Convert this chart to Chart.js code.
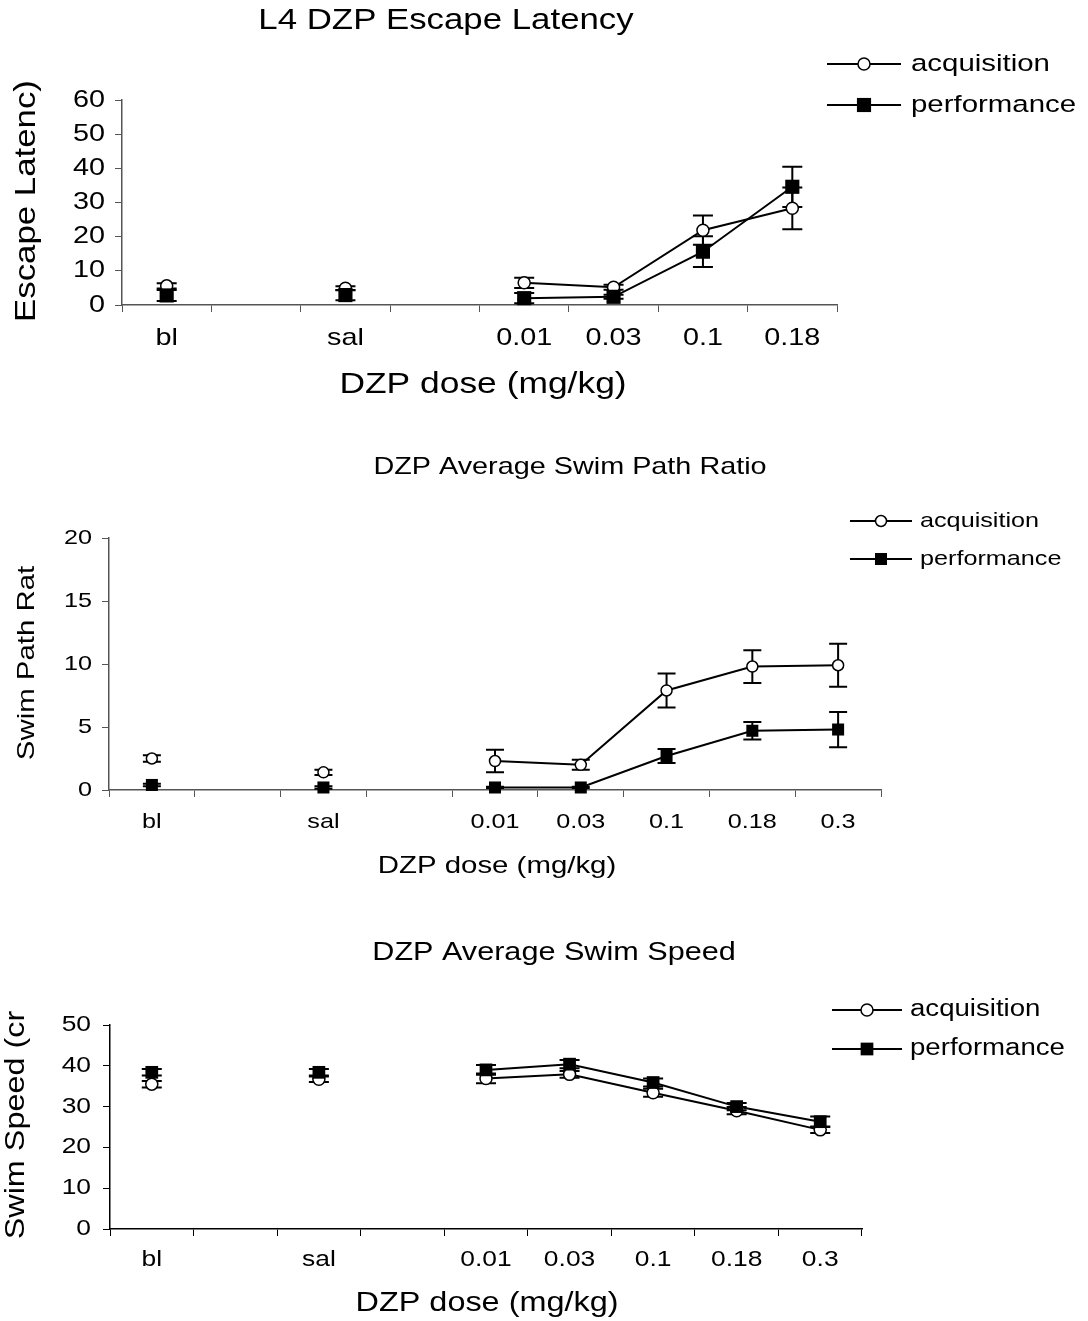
<!DOCTYPE html>
<html>
<head>
<meta charset="utf-8">
<title>DZP dose charts</title>
<script src="https://cdn.jsdelivr.net/npm/chart.js@4.4.1/dist/chart.umd.min.js"></script>
<style>
  html, body { margin: 0; padding: 0; background: #fff; }
  body { width: 1088px; height: 1321px; position: relative; overflow: hidden; }
  canvas { position: absolute; left: 0; }
</style>
</head>
<body>
<canvas id="latencyChart" width="1088" height="440" style="top:0px"></canvas>
<canvas id="pathChart" width="1088" height="460" style="top:440px"></canvas>
<canvas id="speedChart" width="1088" height="421" style="top:900px"></canvas>
<script>
// Dose groups - the '' slots are the empty columns between bl / sal / doses
const latencyDoses = ['bl', '', 'sal', '', '0.01', '0.03', '0.1', '0.18'];
const doses = ['bl', '', 'sal', '', '0.01', '0.03', '0.1', '0.18', '0.3'];

// L4 escape latency
const latencyAcq = [5.6, null, 4.9, null, 6.5, 5.2, 21.9, 28.3];
const latencyAcqErr = [0.8, null, 0.6, null, 1.5, 0.7, 4.3, 6.1];
const latencyPerf = [2.8, null, 2.9, null, 2.0, 2.4, 15.6, 34.6];
const latencyPerfErr = [1.6, null, 1.5, null, 1.5, 0.6, 4.5, 5.9];

// swim path ratio
const pathAcq = [2.5, null, 1.4, null, 2.3, 2.0, 7.9, 9.8, 9.9];
const pathAcqErr = [0.25, null, 0.2, null, 0.9, 0.4, 1.35, 1.3, 1.7];
const pathPerf = [0.4, null, 0.2, null, 0.2, 0.2, 2.7, 4.7, 4.8];
const pathPerfErr = [0.1, null, 0.1, null, 0.05, 0.05, 0.55, 0.7, 1.4];

// swim speed
const speedAcq = [35.5, null, 36.7, null, 36.9, 37.9, 33.4, 29.0, 24.3];
const speedAcqErr = [0.8, null, 0.7, null, 1.2, 0.8, 1.0, 0.9, 0.8];
const speedPerf = [38.4, null, 38.4, null, 39.0, 40.4, 35.9, 30.0, 26.3];
const speedPerfErr = [0.8, null, 0.8, null, 1.2, 1.0, 1.0, 0.9, 1.3];

const STRETCH = 1.2;        // the original lettering is ~20% wider than Arial
const XAXIS_H = 60;         // fixed height of the x axis box
const FONT = '"Liberation Sans", Arial, sans-serif';

// draw text stretched along its baseline
function wideText(ctx, text, x, y, size, align, vertical) {
	ctx.save();
	ctx.translate(x, y);
	if (vertical) ctx.rotate(-Math.PI / 2);
	ctx.scale(STRETCH, 1);
	ctx.font = size + 'px ' + FONT;
	ctx.fillStyle = '#000';
	ctx.textAlign = align || 'center';
	ctx.textBaseline = 'middle';
	ctx.fillText(text, 0, 0);
	ctx.restore();
}

function drawMarker(ctx, style, x, y, r) {
	ctx.save();
	ctx.strokeStyle = '#000';
	if (style === 'rect') {
		const s = r * Math.SQRT1_2;
		ctx.fillStyle = '#000';
		ctx.fillRect(x - s, y - s, 2 * s, 2 * s);
	} else {
		ctx.fillStyle = '#fff';
		ctx.lineWidth = 1.5;
		ctx.beginPath();
		ctx.arc(x, y, r, 0, Math.PI * 2);
		ctx.fill();
		ctx.stroke();
	}
	ctx.restore();
}

// vertical SEM bars with caps, drawn under the markers
const errorBars = {
	id: 'errorBars',
	beforeDatasetsDraw(chart) {
		const ctx = chart.ctx;
		const ys = chart.scales.y;
		const cap = chart.$spec.cap;
		ctx.save();
		ctx.strokeStyle = '#000';
		ctx.lineWidth = 2;
		chart.data.datasets.forEach((ds, i) => {
			chart.getDatasetMeta(i).data.forEach((pt, j) => {
				const v = ds.data[j], e = ds.errors[j];
				if (v == null || e == null) return;
				const top = ys.getPixelForValue(v + e);
				const bot = ys.getPixelForValue(v - e);
				ctx.beginPath();
				ctx.moveTo(pt.x, top); ctx.lineTo(pt.x, bot);
				ctx.moveTo(pt.x - cap, top); ctx.lineTo(pt.x + cap, top);
				ctx.moveTo(pt.x - cap, bot); ctx.lineTo(pt.x + cap, bot);
				ctx.stroke();
			});
		});
		ctx.restore();
	}
};

// titles, tick labels and legend in the wide lettering
const paperText = {
	id: 'paperText',
	afterDraw(chart) {
		const t = chart.$spec.text;
		const ctx = chart.ctx, xs = chart.scales.x, ys = chart.scales.y;
		wideText(ctx, t.title, t.titleAt[0], t.titleAt[1], t.titleSize);
		wideText(ctx, t.yTitle, t.yTitleAt[0], t.yTitleAt[1], t.yTitleSize, 'center', true);
		wideText(ctx, t.xTitle, t.xTitleAt[0], t.xTitleAt[1], t.xTitleSize);
		ys.ticks.forEach(tk => {
			wideText(ctx, String(tk.value), ys.right - t.yLabelGap, ys.getPixelForValue(tk.value), t.tickSize, 'right');
		});
		chart.data.labels.forEach((lab, i) => {
			if (lab) wideText(ctx, lab, xs.getPixelForValue(i), xs.top + t.xLabelDrop, t.tickSize);
		});
		// legend: line with marker in the middle, then the name
		const lg = t.legend;
		const rows = [['acquisition', 'circle', chart.$spec.circleR], ['performance', 'rect', chart.$spec.squareR]];
		rows.forEach((row, k) => {
			const y = lg.rows[k];
			ctx.save();
			ctx.strokeStyle = '#000';
			ctx.lineWidth = 2;
			ctx.beginPath();
			ctx.moveTo(lg.x1, y); ctx.lineTo(lg.x2, y);
			ctx.stroke();
			ctx.restore();
			drawMarker(ctx, row[1], (lg.x1 + lg.x2) / 2, y, row[2]);
			wideText(ctx, row[0], lg.textX, y, lg.size, 'left');
		});
	}
};

function buildChart(id, spec) {
	const canvas = document.getElementById(id);
	const a = spec.area;
	const chart = new Chart(canvas, {
		type: 'line',
		data: {
			labels: spec.labels,
			datasets: [{
				label: 'performance',
				data: spec.perf,
				errors: spec.perfErr,
				borderColor: '#000',
				borderWidth: 2,
				pointStyle: 'rect',
				pointRadius: spec.squareR,
				pointBackgroundColor: '#000',
				pointBorderColor: '#000',
				pointBorderWidth: 0,
				tension: 0,
				clip: false,
				order: 0
			}, {
				label: 'acquisition',
				data: spec.acq,
				errors: spec.acqErr,
				borderColor: '#000',
				borderWidth: 2,
				pointStyle: 'circle',
				pointRadius: spec.circleR,
				pointBackgroundColor: '#fff',
				pointBorderColor: '#000',
				pointBorderWidth: 1.5,
				tension: 0,
				clip: false,
				order: 1
			}]
		},
		options: {
			responsive: false,
			animation: false,
			events: [],
			layout: {
				padding: { left: 0, top: a.top, right: canvas.width - a.right, bottom: canvas.height - a.bottom - XAXIS_H }
			},
			plugins: { legend: { display: false }, tooltip: { enabled: false } },
			scales: {
				x: {
					type: 'category',
					offset: true,
					grid: { offset: true, drawOnChartArea: false, tickLength: 7, color: spec.axisColor },
					border: { color: spec.axisColor, width: 1.5 },
					ticks: { display: false },
					afterFit: s => { s.height = XAXIS_H; }
				},
				y: {
					min: 0,
					max: spec.yMax,
					grid: { drawOnChartArea: false, tickLength: 7, color: spec.axisColor },
					border: { color: spec.axisColor, width: 1.5 },
					ticks: { stepSize: spec.yStep, display: false },
					afterFit: s => { s.width = a.left; }
				}
			}
		},
		plugins: [{ id: 'spec', beforeInit(c) { c.$spec = spec; } }, errorBars, paperText]
	});
	return chart;
}

// page y offsets of the canvases: 0, 440, 900
buildChart('latencyChart', {
	labels: latencyDoses,
	acq: latencyAcq, acqErr: latencyAcqErr,
	perf: latencyPerf, perfErr: latencyPerfErr,
	yMax: 60, yStep: 10,
	area: { left: 122, right: 837, top: 100, bottom: 305 },
	axisColor: '#555',
	squareR: 10, circleR: 6, cap: 10,
	text: {
		title: 'L4 DZP Escape Latency', titleAt: [446, 21], titleSize: 29,
		yTitle: 'Escape Latenc)', yTitleAt: [27, 201], yTitleSize: 29,
		xTitle: 'DZP dose (mg/kg)', xTitleAt: [483, 385], xTitleSize: 29.5,
		tickSize: 24, yLabelGap: 17, xLabelDrop: 33,
		legend: { x1: 827, x2: 901, rows: [64, 105], textX: 911, size: 24.5 }
	}
});

buildChart('pathChart', {
	labels: doses,
	acq: pathAcq, acqErr: pathAcqErr,
	perf: pathPerf, perfErr: pathPerfErr,
	yMax: 20, yStep: 5,
	area: { left: 109, right: 881, top: 98, bottom: 350 },
	axisColor: '#555',
	squareR: 8.5, circleR: 5.5, cap: 9,
	text: {
		title: 'DZP Average Swim Path Ratio', titleAt: [570, 27], titleSize: 24,
		yTitle: 'Swim Path Rat', yTitleAt: [27, 223], yTitleSize: 24.5,
		xTitle: 'DZP dose (mg/kg)', xTitleAt: [497, 426], xTitleSize: 24.5,
		tickSize: 21, yLabelGap: 17, xLabelDrop: 32,
		legend: { x1: 850, x2: 912, rows: [81, 119], textX: 920, size: 21 }
	}
});

buildChart('speedChart', {
	labels: doses,
	acq: speedAcq, acqErr: speedAcqErr,
	perf: speedPerf, perfErr: speedPerfErr,
	yMax: 50, yStep: 10,
	area: { left: 110, right: 862, top: 125, bottom: 329 },
	axisColor: '#000',
	squareR: 9, circleR: 6, cap: 10,
	text: {
		title: 'DZP Average Swim Speed', titleAt: [554, 53], titleSize: 25.5,
		yTitle: 'Swim Speed (cr', yTitleAt: [17, 225], yTitleSize: 27,
		xTitle: 'DZP dose (mg/kg)', xTitleAt: [487, 404], xTitleSize: 27,
		tickSize: 22, yLabelGap: 19, xLabelDrop: 31,
		legend: { x1: 832, x2: 902, rows: [110, 149], textX: 910, size: 23 }
	}
});
</script>
</body>
</html>
